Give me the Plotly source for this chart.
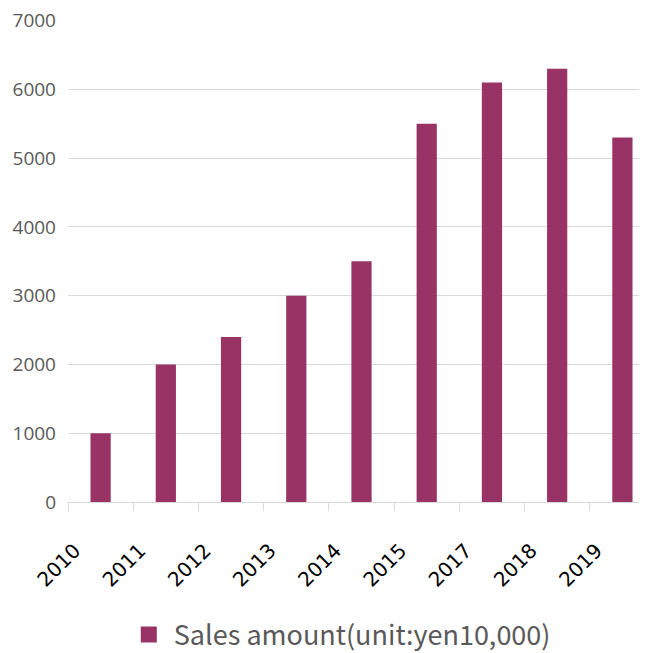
import plotly.graph_objects as go

years = ["2010", "2011", "2012", "2013", "2014", "2015", "2017", "2018", "2019"]
sales = [1000, 2000, 2400, 3000, 3500, 5500, 6100, 6300, 5300]
series_name = "Sales amount(unit:yen10,000)"
bar_color = "#993366"

fig = go.Figure()
fig.add_trace(go.Bar(
    x=years, y=sales, name=series_name,
    marker=dict(color=bar_color, line=dict(width=0)),
    width=0.31,
    showlegend=False,
    legendgroup="s",
))
# legend swatch for the bar series
fig.add_trace(go.Scatter(
    x=[None], y=[None], mode="markers", name=series_name,
    marker=dict(symbol="square", size=16, color=bar_color),
    legendgroup="s", showlegend=True, hoverinfo="skip",
))

fig.update_layout(
    width=647, height=653,
    margin=dict(l=60, r=0, t=12, b=159),
    paper_bgcolor="white", plot_bgcolor="white",
    showlegend=True,
    legend=dict(orientation="h", x=0.463, xanchor="center",
                yref="container", y=0.04, yanchor="middle",
                font=dict(family="Noto Sans CJK JP", size=27, color="#595959"),
                itemwidth=40, itemsizing="trace"),
    xaxis=dict(
        type="category",
        range=[-0.5, 8.5],
        automargin=False,
        tickangle=-45,
        tickfont=dict(family="DejaVu Sans", size=20, color="#000000"),
        showgrid=False,
        showline=True, linecolor="#d9d9d9", linewidth=1,
        ticks="outside", ticklen=8, tickcolor="#d9d9d9",
        tickson="boundaries",
        ticklabelstandoff=28,
        ticklabelshift=-26,
        zeroline=False,
    ),
    yaxis=dict(
        range=[0, 7010],
        automargin=False,
        tickvals=[0, 1000, 2000, 3000, 4000, 5000, 6000, 7000],
        tickfont=dict(family="Open Sans", size=19, color="#595959"),
        ticklabeloverflow="allow",
        showgrid=True, gridcolor="#d9d9d9", gridwidth=1,
        zeroline=False,
        ticks="", ticklabelstandoff=11,
    ),
)

fig.write_html("out.html")
